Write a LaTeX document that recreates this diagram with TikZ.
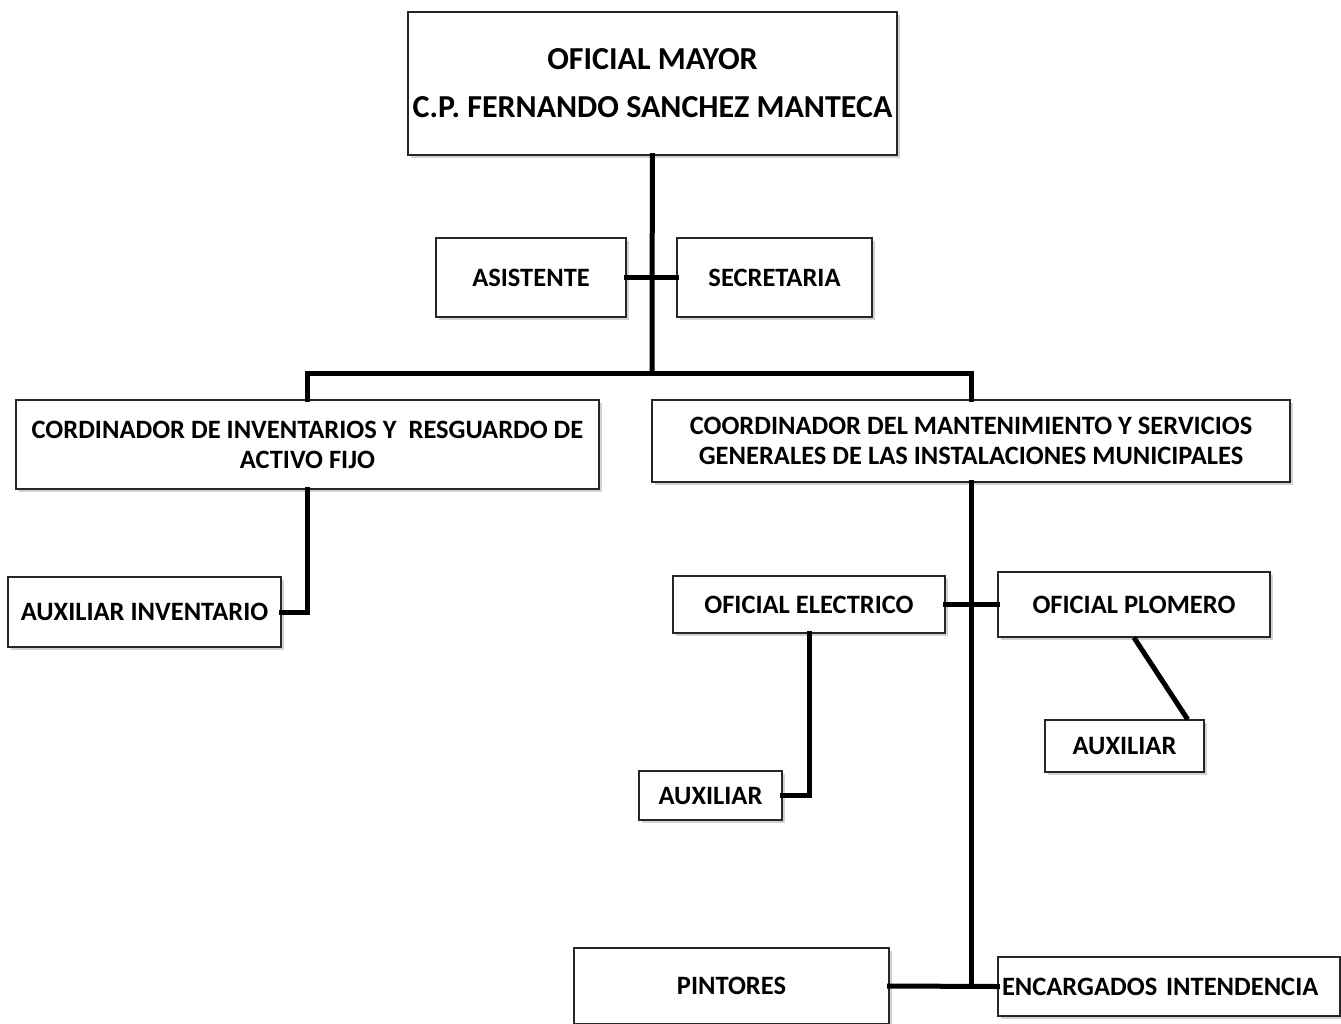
\documentclass[tikz,border=0pt]{standalone}
\usepackage{fontspec}
\setmainfont{Carlito}
\usetikzlibrary{shadows}

\tikzset{
  box/.style={draw=black!85, line width=1.3pt, fill=white, inner sep=0pt,
    align=center, font=\fontsize{26.5}{30}\selectfont\bfseries,
    drop shadow={shadow xshift=2.5pt, shadow yshift=-2.5pt, opacity=0.35}},
  link/.style={line width=5pt, line cap=rect}
}

\begin{document}
\begin{tikzpicture}[x=1pt, y=-1pt]
  \clip (0,0) rectangle (1341,1023);
  \fill[white] (0,0) rectangle (1341,1023);

  % jefatura
  \node[box, minimum width=489, minimum height=143,
        font=\fontsize{32}{48}\selectfont\bfseries] (mayor) at (652.5,83.5)
        {OFICIAL MAYOR\\C.P. FERNANDO SANCHEZ MANTECA};
  \node[box, minimum width=190, minimum height=79] (asistente) at (531,277.5) {ASISTENTE};
  \node[box, minimum width=195, minimum height=79] (secretaria) at (774.5,277.5) {SECRETARIA};

  % coordinaciones
  \node[box, minimum width=583, minimum height=89] (coordinv) at (307.5,444.5)
        {CORDINADOR DE INVENTARIOS Y~ RESGUARDO DE\\ACTIVO FIJO};
  \node[box, minimum width=638, minimum height=82] (coordmant) at (971,441)
        {COORDINADOR DEL MANTENIMIENTO Y SERVICIOS\\GENERALES DE LAS INSTALACIONES MUNICIPALES};
  \node[box, minimum width=273, minimum height=70] (auxinv) at (144.5,612) {AUXILIAR INVENTARIO};

  % mantenimiento
  \node[box, minimum width=272, minimum height=57] (electrico) at (809,604.5) {OFICIAL ELECTRICO};
  \node[box, minimum width=272, minimum height=65] (plomero) at (1134,604.5) {OFICIAL PLOMERO};
  \node[box, minimum width=143, minimum height=49] (auxelec) at (710.5,795.5) {AUXILIAR};
  \node[box, minimum width=159, minimum height=52] (auxplom) at (1124.5,746) {AUXILIAR};
  \node[box, minimum width=315, minimum height=76] (pintores) at (731.5,986) {PINTORES};
  \node[box, minimum width=342, minimum height=59, text width=334, align=left]
        (encargados) at (1169,986.5) {ENCARGADOS INTENDENCIA};

  \coordinate (trunk) at (652,373);
  \coordinate (base) at (971,986);

  \begin{scope}[link]
    \draw (mayor) -- (trunk);
    \draw (asistente) -- (secretaria);
    \draw (coordinv.north) |- (trunk) -| (coordmant.north);
    \draw (coordinv.south) |- (auxinv.east);
    \draw (coordmant.south) -- (base);
    \draw (pintores.east |- base) -- (encargados.west);
    \draw (electrico) -- (plomero);
    \draw (electrico.south) |- (auxelec.east);
    \draw[line cap=butt] (plomero.south) -- ([xshift=-17pt]auxplom.north east);
  \end{scope}
\end{tikzpicture}
\end{document}
